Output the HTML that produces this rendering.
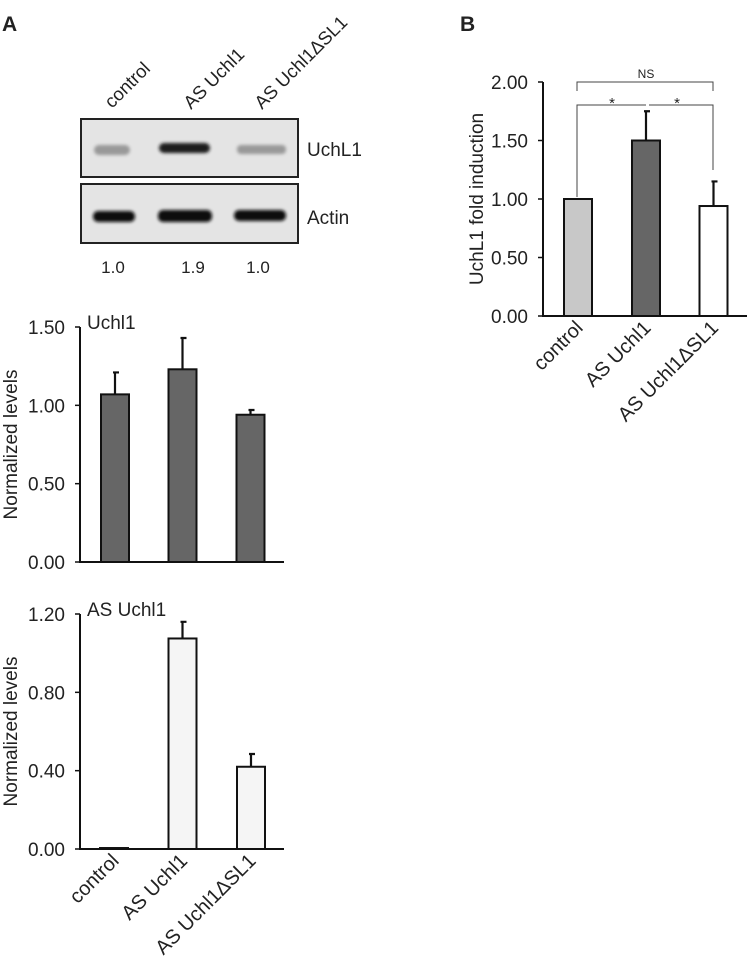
<!DOCTYPE html>
<html><head><meta charset="utf-8"><style>
body{margin:0;background:#fff;font-family:"Liberation Sans",Arial,sans-serif}
svg text{font-family:"Liberation Sans",Arial,sans-serif;fill:#222}
</style></head><body>
<svg id="s" width="750" height="967" viewBox="0 0 750 967" xmlns="http://www.w3.org/2000/svg">
<defs>
<filter id="bl" x="-20%" y="-100%" width="140%" height="300%"><feGaussianBlur stdDeviation="1.6"/></filter>
</defs>
<text x="2" y="31" font-size="21" font-weight="bold">A</text>
<text x="460" y="31" font-size="21" font-weight="bold">B</text>
<g>
<text transform="translate(112,109) rotate(-45)" font-size="18.5">control</text>
<text transform="translate(191,110) rotate(-45)" font-size="18.5">AS Uchl1</text>
<text transform="translate(262,110) rotate(-45)" font-size="18.5">AS Uchl1ΔSL1</text>
<rect x="81" y="119" width="217" height="58" fill="#e4e4e4" stroke="#222" stroke-width="2"/>
<rect x="81" y="184" width="217" height="59" fill="#e4e4e4" stroke="#222" stroke-width="2"/>
<g filter="url(#bl)">
<rect x="94" y="145" width="36" height="10" rx="5" fill="#999"/>
<rect x="159" y="143" width="51" height="10" rx="5" fill="#1a1a1a"/>
<rect x="237" y="145" width="49" height="9" rx="4" fill="#999"/>
<rect x="93" y="211" width="42" height="11" rx="5" fill="#111"/>
<rect x="158" y="210" width="54" height="12" rx="5" fill="#111"/>
<rect x="234" y="210" width="52" height="11" rx="5" fill="#111"/>
</g>
<text x="307" y="156" font-size="19">UchL1</text>
<text x="307" y="224" font-size="19">Actin</text>
<text x="113" y="273" font-size="17" text-anchor="middle">1.0</text>
<text x="193" y="273" font-size="17" text-anchor="middle">1.9</text>
<text x="258" y="273" font-size="17" text-anchor="middle">1.0</text>
</g>
<g id="c1"></g><g id="c2"></g><g id="c3"></g>
</svg>
<script>
const cats=["control","AS Uchl1","AS Uchl1ΔSL1"];
const uchValues=[1.07,1.23,0.94];
const uchErrors=[0.14,0.20,0.03];
const uchTicks=["0.00","0.50","1.00","1.50"];
const asValues=[0.005,1.075,0.42];
const asErrors=[0,0.085,0.065];
const asTicks=["0.00","0.40","0.80","1.20"];
const foldValues=[1.00,1.50,0.94];
const foldErrors=[0,0.25,0.21];
const foldTicks=["0.00","0.50","1.00","1.50","2.00"];
const NS="http://www.w3.org/2000/svg";
function mk(p,t,a){const e=document.createElementNS(NS,t);for(const k in a)e.setAttribute(k,a[k]);p.appendChild(e);return e;}
function chart(g,o){
  const y=v=>o.y0-(v/o.max)*(o.y0-o.yTop);
  const ax=mk(g,'path',{d:`M${o.x0} ${o.yTop}V${o.y0}H${o.x1}`,stroke:'#111','stroke-width':2,fill:'none'});
  
  
  o.ticks.forEach((t,i)=>{
    const v=o.max*i/(o.ticks.length-1);
    const l=mk(g,'line',{x1:o.x0-5,x2:o.x0,y1:y(v),y2:y(v),stroke:'#111','stroke-width':1.5});
    
    
    const tx=mk(g,'text',{x:o.x0-15,y:y(v)+7,'font-size':19,'text-anchor':'end'});tx.textContent=t;
    
    
  });
  o.vals.forEach((v,i)=>{
    const cx=o.cx[i],bw=o.bw;
    const top=o.errs[i]>0?y(v+o.errs[i]):null;
    if(top!==null){
      const e=mk(g,'path',{d:`M${cx} ${y(v)}V${top}M${cx-2} ${top}H${cx+4}`,stroke:'#111','stroke-width':2.2,fill:'none'});
      
      
    }
    const r=mk(g,'rect',{x:cx-bw/2,y:y(v),width:bw,height:o.y0-y(v),fill:o.fills[i],stroke:'#111','stroke-width':2});
    
    
  });
  const yl=mk(g,'text',{transform:`translate(${o.ylx},${(o.y0+o.yTop)/2}) rotate(-90)`,'font-size':19,'text-anchor':'middle'});yl.textContent=o.ylabel;
  
  
  if(o.title){const t=mk(g,'text',{x:o.x0+7,y:o.yTop+2,'font-size':19});t.textContent=o.title;
    
    }
  if(o.xlabels){cats.forEach((c,i)=>{const t=mk(g,'text',{transform:`translate(${o.cx[i]+6},${o.y0+13}) rotate(-45)`,'font-size':20,'text-anchor':'end'});t.textContent=c;
    
    });}
  return y;
}
chart(document.getElementById('c1'),{x0:80,x1:284,y0:562,yTop:327,max:1.5,ticks:uchTicks,vals:uchValues,errs:uchErrors,cx:[115,182.5,250.5],bw:28,fills:['#666','#666','#666'],ylabel:'Normalized levels',ylx:17,title:'Uchl1'});
chart(document.getElementById('c2'),{x0:80,x1:284,y0:849,yTop:614,max:1.2,ticks:asTicks,vals:asValues,errs:asErrors,cx:[114,182.5,251],bw:28,fills:['#f5f5f5','#f5f5f5','#f5f5f5'],ylabel:'Normalized levels',ylx:17,title:'AS Uchl1',xlabels:true});
const g3=document.getElementById('c3');
const y3=chart(g3,{x0:543,x1:747,y0:316,yTop:82,max:2,ticks:foldTicks,vals:foldValues,errs:foldErrors,cx:[578,646,713.5],bw:28,fills:['#c8c8c8','#666','#fff'],ylabel:'UchL1 fold induction',ylx:483,xlabels:true});
const br=[["M577 91V82H713V91","bracket-ns"],["M577 197V105H646M649 105H713V170","bracket-star"]];
br.forEach(b=>{const p=mk(g3,'path',{d:b[0],stroke:'#444','stroke-width':1,fill:'none'});

});
[[646,78,'NS',12],[612,108,'*',15],[677,108,'*',15]].forEach(a=>{const t=mk(g3,'text',{x:a[0],y:a[1],'font-size':a[3],'text-anchor':'middle'});t.textContent=a[2];

});
</script>
</body></html>
